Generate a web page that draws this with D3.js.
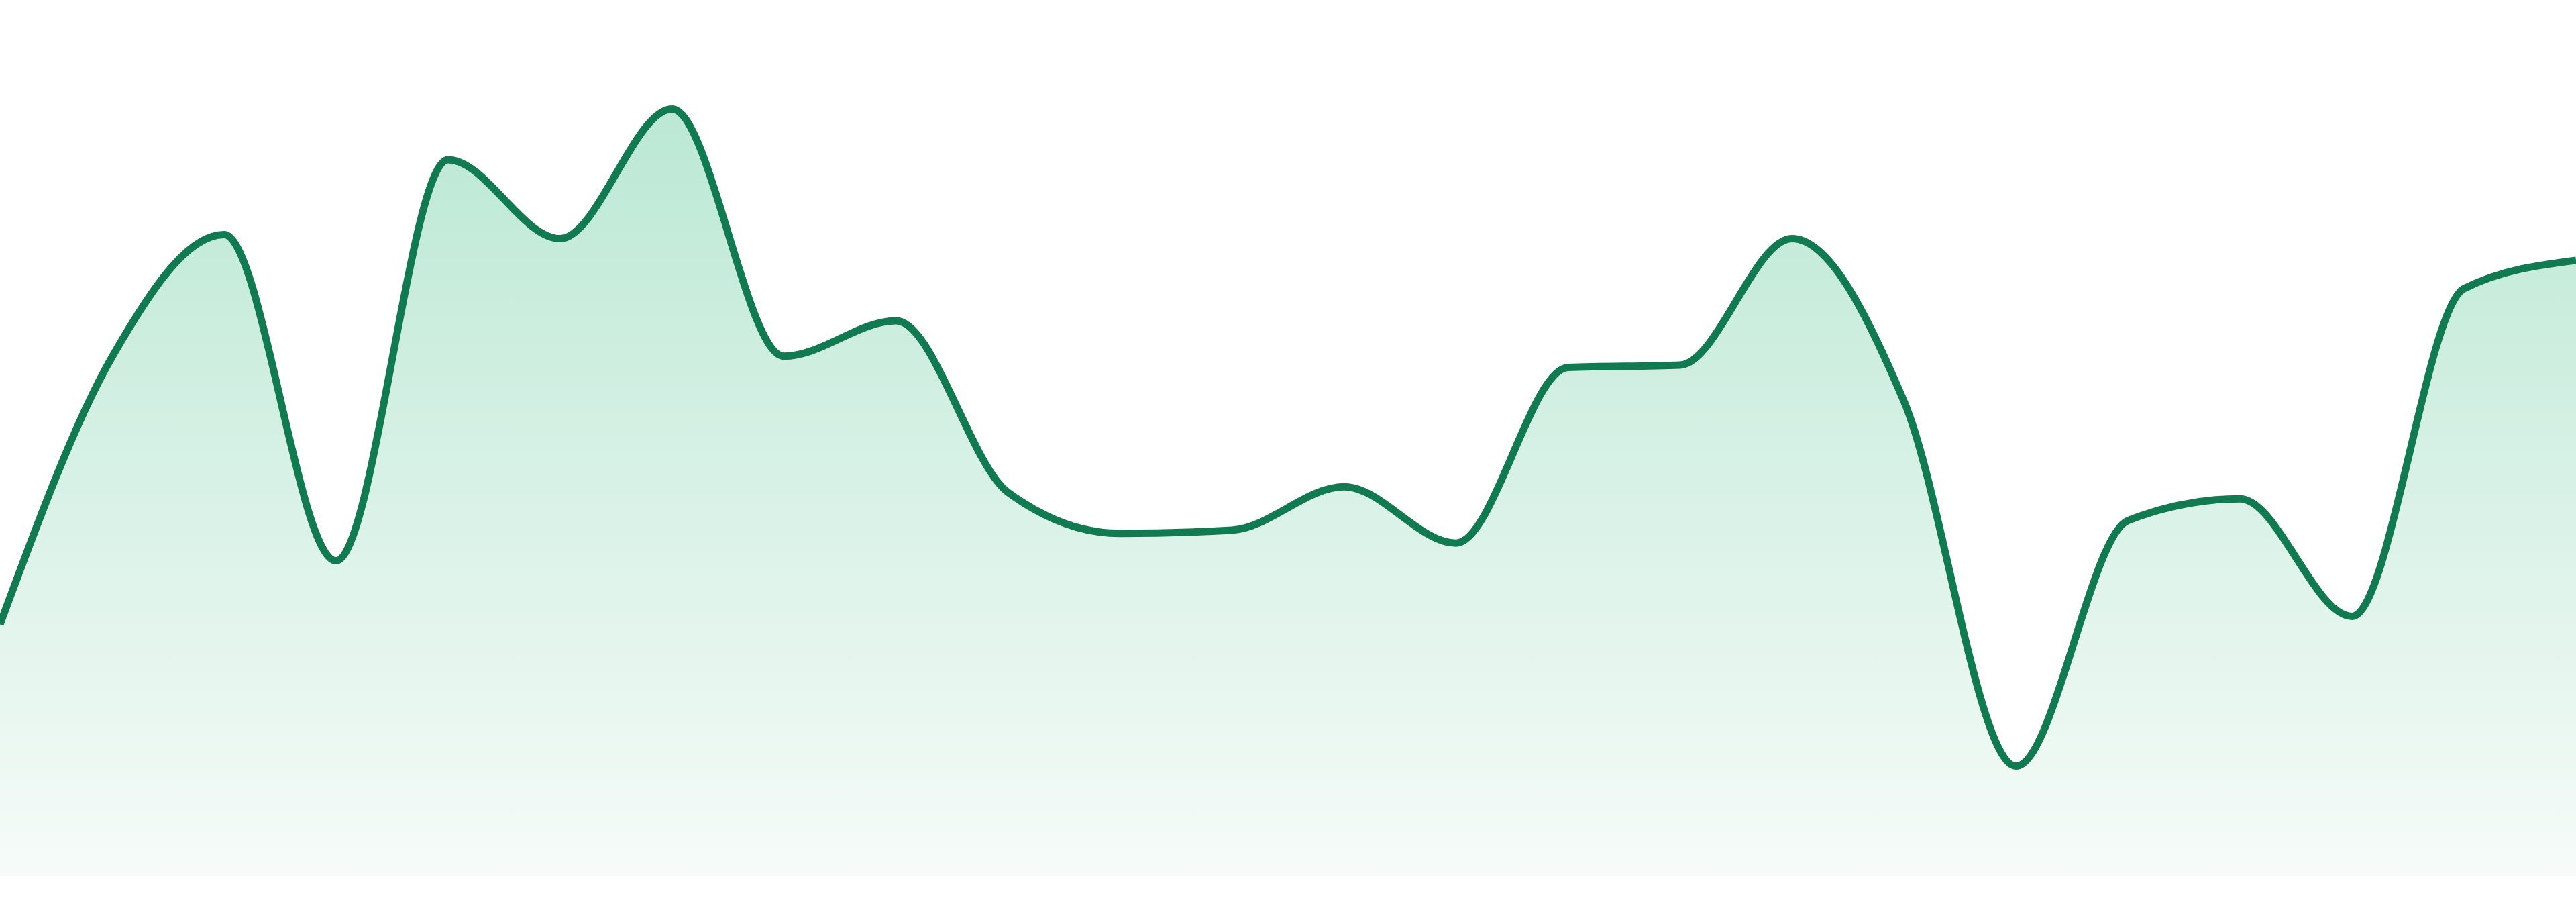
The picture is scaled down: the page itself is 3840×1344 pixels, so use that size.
<!DOCTYPE html>
<html lang="en">
<head>
  <meta charset="UTF-8">
  <title>Area Trend</title>
  <style>
    html, body { margin: 0; padding: 0; background: #fff; overflow: hidden; }
  </style>
</head>
<body>
  <div id="chart"></div>

  <script src="https://d3js.org/d3.v7.min.js"></script>
  <script>
    // values, one per step
    const steps = d3.range(24);
    const values = [31.3, 64.5, 79.7, 39.2, 89.0, 79.2, 95.3, 64.6, 69.0, 47.7,
                    42.6, 43.0, 48.4, 41.4, 63.2, 63.5, 79.2, 59.0, 13.7, 44.2,
                    46.9, 32.3, 73.0, 76.5];

    const width = 3840,
          height = 1344,
          baseY = 1306;

    const data = steps.map((s, i) => ({step: s, value: values[i]}));

    const svg = d3.select("#chart")
      .append("svg")
      .attr("width", width)
      .attr("height", height)
      .attr("viewBox", [0, 0, width, height]);

    let x = d3.scaleLinear([0, steps.length - 1], [0, width]);
    let y = d3.scaleLinear([0, 100], [baseY, 106]);

    const grad = svg.append("defs")
      .append("linearGradient")
      .attr("id", "fill-grad")
      .attr("gradientUnits", "userSpaceOnUse")
      .attr("x1", 0).attr("x2", 0)
      .attr("y1", y(d3.max(values))).attr("y2", baseY);

    grad.append("stop").attr("offset", "0%").attr("stop-color", "#bbe8d4");
    grad.append("stop").attr("offset", "100%").attr("stop-color", "#f6fbf9");

    const area = d3.area()
      .x(d => x(d.step))
      .y0(baseY)
      .y1(d => y(d.value))
      .curve(d3.curveMonotoneX);

    const line = d3.line()
      .x(d => x(d.step))
      .y(d => y(d.value))
      .curve(d3.curveMonotoneX);

    svg.append("path")
      .datum(data)
      .attr("fill", "url(#fill-grad)")
      .attr("d", area);

    svg.append("path")
      .datum(data)
      .attr("fill", "none")
      .attr("stroke", "#127a51")
      .attr("stroke-width", 11)
      .attr("stroke-linejoin", "round")
      .attr("d", line);
  </script>
</body>
</html>
